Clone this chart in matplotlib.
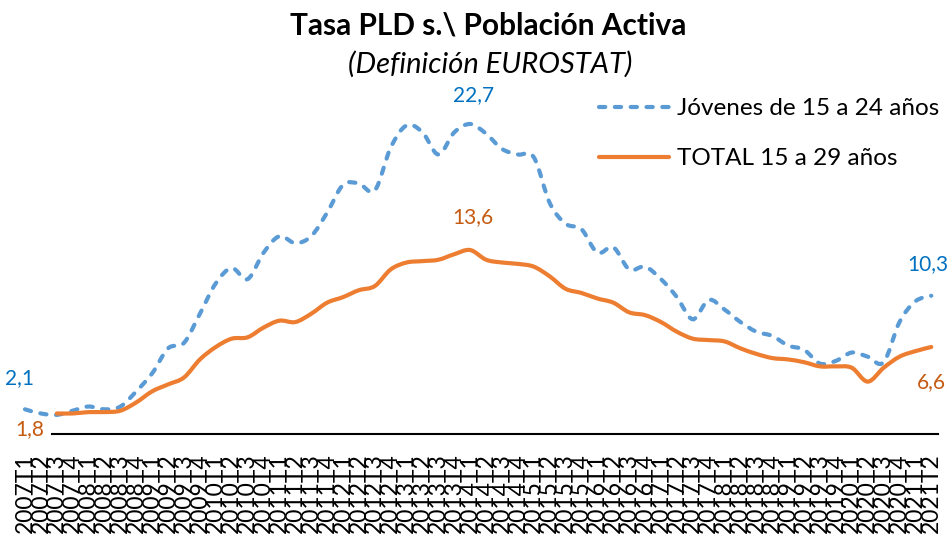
import numpy as np
import matplotlib
matplotlib.use("Agg")
import matplotlib.pyplot as plt
from matplotlib.path import Path
from matplotlib.patches import PathPatch
from matplotlib.lines import Line2D

plt.rcParams['font.family'] = ['Lato', 'DejaVu Sans']

# quarters 2007T1 .. 2021T2
quarters = [f"{y}T{q}" for y in range(2007, 2022) for q in range(1, 5)][:58]

# Jóvenes de 15 a 24 años (starts 2007T1)
jovenes = [2.1, 1.8, 1.7, 2.0, 2.3, 2.1, 2.3, 3.4, 4.7, 6.5,
           6.9, 9.0, 11.2, 12.3, 11.5, 13.4, 14.6, 14.1, 14.6, 16.3,
           18.3, 18.4, 17.9, 21.0, 22.6, 22.1, 20.5, 22.1, 22.7, 22.0,
           20.9, 20.5, 20.3, 17.0, 15.5, 15.1, 13.4, 13.8, 12.2, 12.4,
           11.5, 10.2, 8.6, 10.0, 9.3, 8.4, 7.7, 7.4, 6.7, 6.4,
           5.4, 5.6, 6.2, 5.9, 5.5, 8.4, 9.9, 10.3]

# TOTAL 15 a 29 años (starts 2007T3)
total_start = 2
total = [1.8, 1.8, 1.9, 1.9, 2.0, 2.6, 3.4, 3.9, 4.4, 5.7,
         6.6, 7.2, 7.3, 8.0, 8.5, 8.4, 9.0, 9.8, 10.2, 10.7,
         11.0, 12.2, 12.7, 12.8, 12.9, 13.3, 13.6, 12.9, 12.7, 12.6,
         12.4, 11.7, 10.8, 10.5, 10.1, 9.8, 9.1, 8.9, 8.4, 7.7,
         7.2, 7.1, 7.0, 6.5, 6.1, 5.8, 5.7, 5.5, 5.2, 5.2,
         5.1, 4.1, 5.1, 5.9, 6.3, 6.6]

BLUE = '#5B9BD5'
ORANGE = '#ED7D31'
BLUE_TXT = '#0070C0'
ORANGE_TXT = '#C55A11'


def smooth_path(x, y):
    """Excel-like smoothed line: Catmull-Rom segments drawn as cubic Beziers."""
    p = np.column_stack([x, y]).astype(float)
    verts = [p[0]]
    codes = [Path.MOVETO]
    n = len(p)
    for i in range(n - 1):
        p0 = p[i - 1] if i > 0 else p[i]
        p3 = p[i + 2] if i + 2 < n else p[i + 1]
        c1 = p[i] + (p[i + 1] - p0) / 6.0
        c2 = p[i + 1] - (p3 - p[i]) / 6.0
        verts += [c1, c2, p[i + 1]]
        codes += [Path.CURVE4] * 3
    return Path(verts, codes)


fig = plt.figure(figsize=(9.5, 5.34), dpi=100)
# axes spans the full width; y from pixel 90 to 438
ax = fig.add_axes([0, (534 - 438.4) / 534, 1, (438.4 - 90) / 534])
step = 15.9
x0 = -25 / step
ax.set_xlim(x0, x0 + 950 / step)
ax.set_ylim(0, (438.4 - 90) / 13.85)

xj = np.arange(len(jovenes))
xt = np.arange(len(total)) + total_start

pj = PathPatch(smooth_path(xj, jovenes), fill=False, edgecolor=BLUE,
               lw=3, linestyle=(0, (1.5, 2.3)), capstyle='round', zorder=3)
pt = PathPatch(smooth_path(xt, total), fill=False, edgecolor=ORANGE,
               lw=3, capstyle='round', zorder=4)
ax.add_patch(pj)
ax.add_patch(pt)

# data labels
lab_kw = dict(textcoords='offset pixels', ha='center', va='center', fontsize=15)
ax.annotate('2,1', (xj[0], jovenes[0]), xytext=(-5, 31), color=BLUE_TXT, **lab_kw)
ax.annotate('22,7', (xj[28], jovenes[28]), xytext=(3, 29), color=BLUE_TXT, **lab_kw)
ax.annotate('10,3', (xj[-1], jovenes[-1]), xytext=(-3, 32), color=BLUE_TXT, **lab_kw)
ax.annotate('1,8', (xt[0], total[0]), xytext=(-27, -16), color=ORANGE_TXT, **lab_kw)
ax.annotate('13,6', (xt[26], total[26]), xytext=(3, 33), color=ORANGE_TXT, **lab_kw)
ax.annotate('6,6', (xt[-1], total[-1]), xytext=(0, -35), color=ORANGE_TXT, **lab_kw)

# axis line and overlapping quarter labels
for s in ['top', 'right', 'left']:
    ax.spines[s].set_visible(False)
ax.spines['bottom'].set_position(('data', 0.35))
ax.spines['bottom'].set_bounds(1.7, 57.4)
ax.spines['bottom'].set_linewidth(1.5)
ax.set_yticks([])
ax.set_xticks(np.arange(len(quarters)))
ax.set_xticklabels(quarters, rotation=90, fontsize=16.5)
ax.tick_params(axis='x', length=0, pad=14)
ax.patch.set_alpha(0)

handles = [Line2D([], [], color=BLUE, lw=3, linestyle=(0, (1.5, 2.3)),
                  dash_capstyle='round'),
           Line2D([], [], color=ORANGE, lw=3, solid_capstyle='round')]
fig.legend(handles, ['Jóvenes de 15 a 24 años', 'TOTAL 15 a 29 años'],
           loc='upper left', bbox_to_anchor=(599 / 950, 1 - 98 / 534),
           frameon=False, fontsize=17.5, handlelength=2.9, handletextpad=0.3,
           labelspacing=1.2, borderaxespad=0, borderpad=0)

fig.text(0.514, 1 - 25 / 534, 'Tasa PLD s.\\ Población Activa', ha='center',
         va='center', fontsize=21.5, fontweight='bold')
fig.text(0.516, 1 - 64 / 534, '(Definición EUROSTAT)', ha='center',
         va='center', fontsize=21, style='italic')

fig.savefig('out.png', dpi=100)
